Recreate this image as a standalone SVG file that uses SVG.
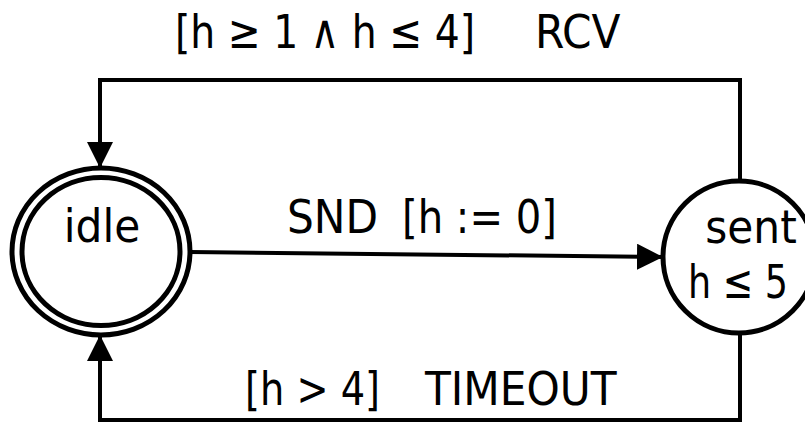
<svg xmlns="http://www.w3.org/2000/svg" width="805" height="425" viewBox="0 0 805 425">
<style>
  .lbl { font-family: "DejaVu Sans Condensed", "DejaVu Sans", sans-serif; font-stretch: condensed; font-size: 47px; fill: #000; }
  .edge { fill: none; stroke: #000; stroke-width: 4; }
  .state { fill: #fff; stroke: #000; stroke-width: 5; }
</style>
<defs>
  <marker id="arr" viewBox="0 0 26 26" refX="26" refY="13" markerWidth="26" markerHeight="26" markerUnits="userSpaceOnUse" orient="auto">
    <path d="M0,0 L26,13 L0,26 Z" fill="#000"/>
  </marker>
</defs>
<g id="connectors">
  <path class="edge" d="M740,182 V80 H100 V168" marker-end="url(#arr)"/>
  <path class="edge" d="M740,332 V420 H100 V335" marker-end="url(#arr)"/>
  <path class="edge" d="M190,252 L663,257" marker-end="url(#arr)"/>
  <text class="lbl" x="175" y="48" textLength="300" lengthAdjust="spacingAndGlyphs">[h ≥ 1 ∧ h ≤ 4]</text>
  <text class="lbl" x="535" y="48">RCV</text>
  <text class="lbl" x="287" y="233">SND</text>
  <text class="lbl" x="402" y="233" textLength="155" lengthAdjust="spacingAndGlyphs">[h := 0]</text>
  <text class="lbl" x="245" y="405" textLength="135" lengthAdjust="spacingAndGlyphs">[h &gt; 4]</text>
  <text class="lbl" x="425" y="405">TIMEOUT</text>
</g>
<g id="idle">
  <ellipse class="state" cx="101" cy="251.5" rx="89" ry="83.5"/>
  <ellipse class="state" cx="101" cy="251.5" rx="79" ry="74"/>
  <text class="lbl" x="102" y="242" text-anchor="middle">idle</text>
</g>
<g id="sent">
  <circle class="state" cx="739" cy="257" r="76"/>
  <text class="lbl" x="751" y="243" text-anchor="middle">sent</text>
  <text class="lbl" x="688" y="298" textLength="100" lengthAdjust="spacingAndGlyphs">h ≤ 5</text>
</g>
</svg>
